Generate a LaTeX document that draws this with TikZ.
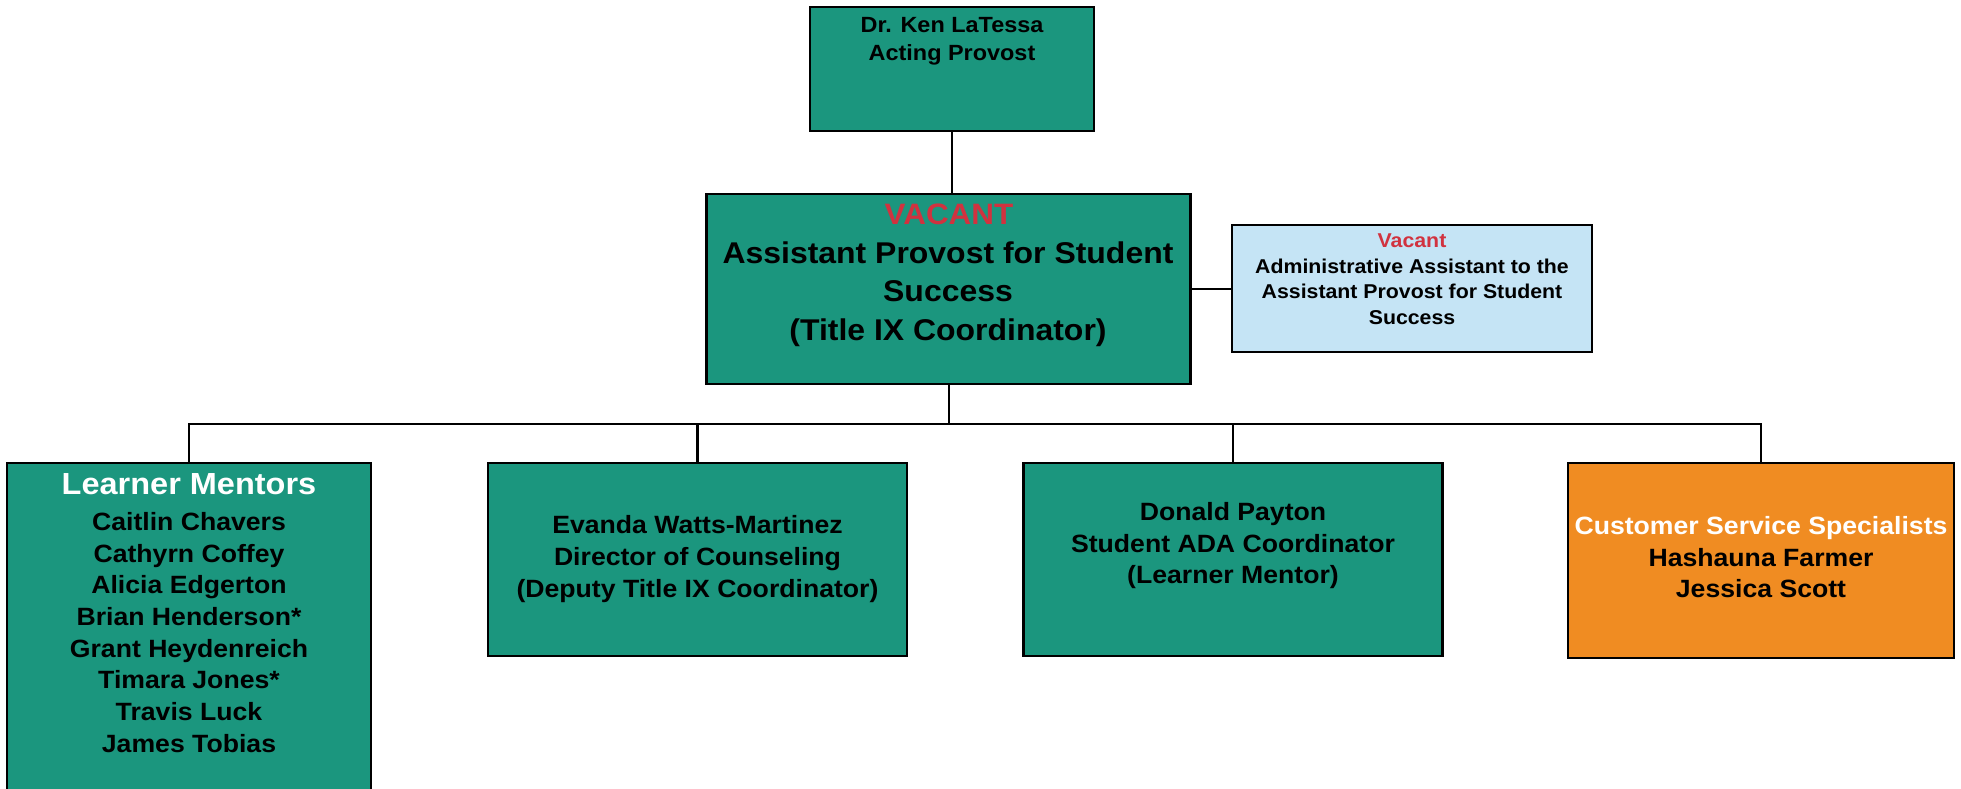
\documentclass[tikz,border=0pt]{standalone}
\usepackage{fontspec}
\setmainfont[FakeStretch=1.065]{Liberation Sans}
\definecolor{tealbox}{HTML}{1B967E}
\definecolor{orangebox}{HTML}{F08C22}
\definecolor{bluebox}{HTML}{C5E4F5}
\definecolor{vacred}{HTML}{D1323F}
\begin{document}
\begin{tikzpicture}[x=1pt,y=-1pt,
  box/.style={draw=black, line width=2.4pt, inner sep=0pt, rectangle},
  conn/.style={draw=black, line width=2.4pt},
  txt/.style={anchor=north, inner sep=0pt, align=center, font=\bfseries}]
\useasboundingbox[fill=white] (0,0) rectangle (1961,789);
% boxes
\node[box, fill=tealbox, minimum width=284pt, minimum height=124pt] (top) at (952,69) {};
\node[box, fill=tealbox, minimum width=484pt, minimum height=190pt] (vac) at (948.6,289) {};
\node[box, fill=bluebox, minimum width=360pt, minimum height=127pt] (adm) at (1412,288.5) {};
\node[box, fill=tealbox, minimum width=364pt, minimum height=340pt] (lm) at (189,633) {};
\node[box, fill=tealbox, minimum width=419pt, minimum height=193pt] (ev) at (697.5,559.5) {};
\node[box, fill=tealbox, minimum width=419pt, minimum height=193pt] (dp) at (1233,559.5) {};
\node[box, fill=orangebox, minimum width=386pt, minimum height=195pt] (cs) at (1761,560.5) {};
% texts
\node[txt, font=\bfseries\fontsize{22}{28.5}\selectfont] (toptxt) at (952,17) {Dr. Ken LaTessa\\Acting Provost};
\node[txt, text=vacred, font=\bfseries\fontsize{29.5}{37}\selectfont] (vaclbl) at (949,203.9) {VACANT};
\node[txt, font=\bfseries\fontsize{30}{38.5}\selectfont] (vactxt) at (948,241.5) {Assistant Provost for Student\\Success\\(Title IX Coordinator)};
\node[txt, text=vacred, font=\bfseries\fontsize{20}{25.3}\selectfont] (admlbl) at (1412,234) {Vacant};
\node[txt, font=\bfseries\fontsize{20}{25.3}\selectfont] (admtxt) at (1412,258.8) {Administrative Assistant to the\\Assistant Provost for Student\\Success};
\node[txt, text=white, font=\bfseries\fontsize{30.5}{37}\selectfont] (lmlbl) at (189,473.7) {Learner Mentors};
\node[txt, font=\bfseries\fontsize{25}{31.7}\selectfont] (lmtxt) at (189,512) {Caitlin Chavers\\Cathyrn Coffey\\Alicia Edgerton\\Brian Henderson*\\Grant Heydenreich\\Timara Jones*\\Travis Luck\\James Tobias};
\node[txt, font=\bfseries\fontsize{25}{32}\selectfont] (evtxt) at (697.5,515) {Evanda Watts-Martinez\\Director of Counseling\\(Deputy Title IX Coordinator)};
\node[txt, font=\bfseries\fontsize{25}{31.8}\selectfont] (dptxt) at (1233,502) {Donald Payton\\Student ADA Coordinator\\(Learner Mentor)};
\node[txt, text=white, font=\bfseries\fontsize{25}{32}\selectfont] (cslbl) at (1761,516) {Customer Service Specialists};
\node[txt, font=\bfseries\fontsize{25}{31.5}\selectfont] (cstxt) at (1761,548) {Hashauna Farmer\\Jessica Scott};
% connectors
\coordinate (bus) at (949,424);
\draw[conn] (top.south) -- (top.south |- vac.north);
\draw[conn] (vac.east) -- (vac.east -| adm.west);
\draw[conn] (vac.south -| bus) -- (bus);
\draw[conn] (lm.north) -- (lm.north |- bus) -- (cs.north |- bus) -- (cs.north);
\draw[conn] (ev.north) -- (ev.north |- bus);
\draw[conn] (dp.north) -- (dp.north |- bus);
\end{tikzpicture}
\end{document}
